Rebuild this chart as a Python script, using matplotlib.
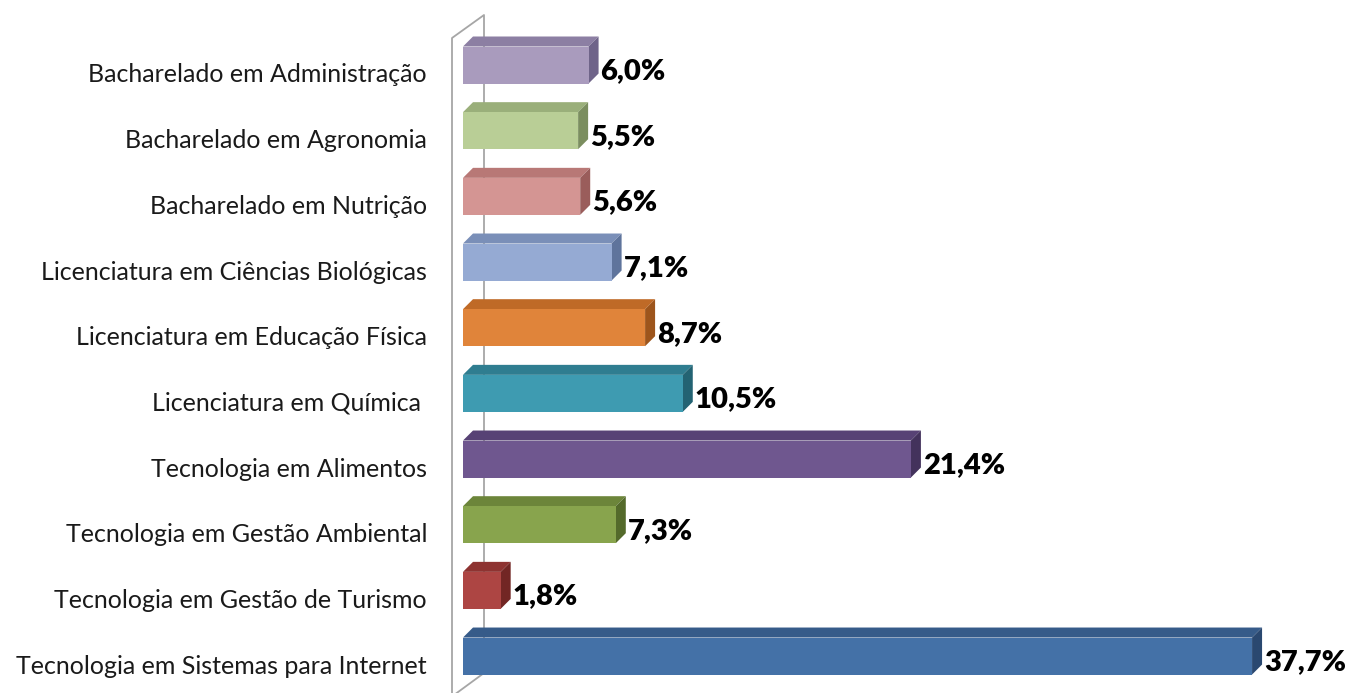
import numpy as np
import matplotlib.pyplot as plt

plt.rcParams['font.family'] = ['Lato', 'DejaVu Sans']

cursos = ["Bacharelado em Administração", "Bacharelado em Agronomia",
          "Bacharelado em Nutrição", "Licenciatura em Ciências Biológicas",
          "Licenciatura em Educação Física", "Licenciatura em Química ",
          "Tecnologia em Alimentos", "Tecnologia em Gestão Ambiental",
          "Tecnologia em Gestão de Turismo", "Tecnologia em Sistemas para Internet"]
percentuais = [6.0, 5.5, 5.6, 7.1, 8.7, 10.5, 21.4, 7.3, 1.8, 37.7]
rotulos = ["6,0%", "5,5%", "5,6%", "7,1%", "8,7%", "10,5%", "21,4%", "7,3%", "1,8%", "37,7%"]

# frente, topo, lateral
cores = [("#A99BBD", "#8C7FA3", "#6F6489"),
         ("#B9CE96", "#9AAF7A", "#7B8E5F"),
         ("#D49593", "#B87876", "#9A5D5B"),
         ("#95AAD3", "#7A8FB8", "#5F749C"),
         ("#E0843A", "#BF6A27", "#9D551C"),
         ("#3E9BB1", "#2F7D90", "#236373"),
         ("#6F578F", "#574275", "#43325C"),
         ("#88A44D", "#6C853A", "#546A2B"),
         ("#AD4543", "#8E3331", "#722624"),
         ("#4471A7", "#365B89", "#2A4870")]

W, H = 1349, 693
px_x = 20.93      # pixels por %
px_y = 65.67      # pixels por categoria
x0_px = 450.4
fig = plt.figure(figsize=(W / 100, H / 100), dpi=100)
ax = fig.add_axes([x0_px / W, 0, 1 - x0_px / W, 1])
ax.set_xlim(-(463 - x0_px) / px_x, (W - 463) / px_x)
ax.set_ylim((H - 65) / px_y, -65 / px_y)
ax.axis('off')

h = 37 / px_y
dx = 10 / px_x
dy = 10 / px_y

# parede de fundo
wall = "#A6A6A6"
wx0, wx1 = -11 / px_x, 21 / px_x
wy_top0, wy_top1 = -27 / px_y, -50 / px_y
ybot = (H - 65) / px_y
ax.plot([wx0, wx0, wx1, wx1, wx1 - 30 / px_x], [ybot + 0.1, wy_top0, wy_top1, ybot - 20 / px_y, ybot + 2 / px_y],
        color=wall, lw=1.3, clip_on=False, zorder=1)

for i, (v, lab, (cf, ct, cs)) in enumerate(zip(percentuais, rotulos, cores)):
    top = i - h / 2
    bot = i + h / 2
    ax.fill([0, v, v + dx, dx], [top, top, top - dy, top - dy], color=ct, zorder=3, lw=0)
    ax.fill([v, v + dx, v + dx, v], [top, top - dy, bot - dy, bot], color=cs, zorder=3, lw=0)
    ax.fill([0, v, v, 0], [top, top, bot, bot], color=cf, zorder=4, lw=0)
    ax.text(v + dx + 2 / px_x, i + 6 / px_y, lab, fontsize=21, fontweight='heavy',
            va='center', ha='left', color='black', zorder=5)
    fig.text(427 / W, 1 - (i * px_y + 65 + 10) / H, cursos[i], fontsize=18,
             ha='right', va='center', color='#1a1a1a')

fig.savefig("out.png", dpi=100)
